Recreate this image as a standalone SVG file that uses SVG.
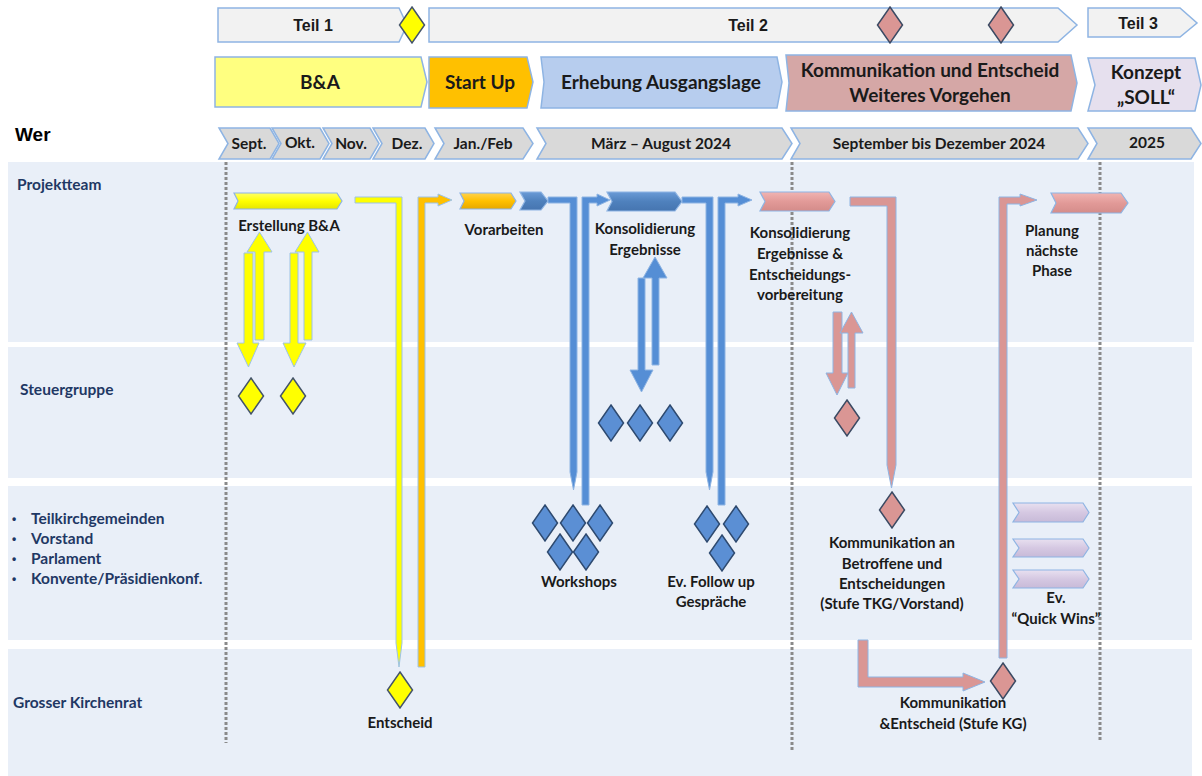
<svg xmlns="http://www.w3.org/2000/svg" width="1202" height="776" viewBox="0 0 1202 776">
<defs>
  <linearGradient id="gY" x1="0" y1="0" x2="0" y2="1"><stop offset="0" stop-color="#FFFF66"/><stop offset="0.5" stop-color="#FFFF00"/><stop offset="1" stop-color="#E6E600"/></linearGradient>
  <linearGradient id="gO" x1="0" y1="0" x2="0" y2="1"><stop offset="0" stop-color="#FFD24D"/><stop offset="0.5" stop-color="#FFC000"/><stop offset="1" stop-color="#E6A800"/></linearGradient>
  <linearGradient id="gB" x1="0" y1="0" x2="0" y2="1"><stop offset="0" stop-color="#6A9AD6"/><stop offset="0.5" stop-color="#4F81BD"/><stop offset="1" stop-color="#4675B0"/></linearGradient>
  <linearGradient id="gP" x1="0" y1="0" x2="0" y2="1"><stop offset="0" stop-color="#F0B4B2"/><stop offset="0.5" stop-color="#E29A98"/><stop offset="1" stop-color="#D48C8A"/></linearGradient>
  <linearGradient id="gL" x1="0" y1="0" x2="0" y2="1"><stop offset="0" stop-color="#E8E0F0"/><stop offset="0.5" stop-color="#D5C8E2"/><stop offset="1" stop-color="#C8BAD8"/></linearGradient>
  <path id="dia" d="M0,-18 L12.5,0 L0,18 L-12.5,0 Z"/>
</defs>
<style>
  .band{fill:#E9EFF8}
  .dot{stroke:#8A8A8A;stroke-width:3;stroke-dasharray:3 2;fill:none}
  .hdr{fill:#F2F2F2;stroke:#8EB4E3;stroke-width:1.5}
  .mon{fill:#D9D9D9;stroke:#8EB4E3;stroke-width:1.5}
  .ph{stroke:#8EB4E3;stroke-width:1.5}
  .t{font-family:Lato,"Liberation Sans",sans-serif;font-weight:700;fill:#1A1A1A;text-anchor:middle}
  .ta{font-family:"Liberation Sans",Arial,sans-serif;font-weight:700;fill:#1A1A1A;text-anchor:middle}
  .lane{font-family:Lato,"Liberation Sans",sans-serif;font-weight:700;fill:#1F3864;font-size:15.5px}
  .bul{font-family:"Liberation Sans",Arial,sans-serif;font-weight:700;fill:#1F3864;font-size:12px}
  .m{font-size:15.5px}
  .n{font-size:15px}
  .p{font-size:19px}
  .tk{stroke:#8EB4E3;stroke-width:1.2}
  .cy{fill:#FFFF00;stroke:#9DC3E6;stroke-width:1}
  .co{fill:#FFC000;stroke:#9DC3E6;stroke-width:1}
  .cb{fill:#558ED5;stroke:#8EB4E3;stroke-width:1}
  .cp{fill:#DA9694;stroke:#8EB4E3;stroke-width:1}
  .dy{fill:#FFFF00;stroke:#44546A;stroke-width:1.5}
  .db{fill:#5B8FD4;stroke:#2E4A70;stroke-width:1.5}
  .dp{fill:#DA9694;stroke:#3B4A63;stroke-width:1.5}
</style>
<rect width="1202" height="776" fill="#FFFFFF"/>

<g id="lanes">
  <rect class="band" x="8" y="162" width="1186" height="180"/>
  <rect class="band" x="8" y="347" width="1184" height="131"/>
  <rect class="band" x="8" y="486" width="1184" height="154"/>
  <rect class="band" x="8" y="649" width="1184" height="127"/>
  <line class="dot" x1="226" y1="162" x2="226" y2="743"/>
  <line class="dot" x1="792" y1="162" x2="792" y2="750"/>
  <line class="dot" x1="1100" y1="162" x2="1100" y2="741"/>
</g>

<g id="lane-labels">
  <text x="15" y="141" font-family="'Liberation Sans',Arial,sans-serif" font-weight="700" font-size="19" fill="#000">Wer</text>
  <text class="lane" x="17" y="190">Projektteam</text>
  <text class="lane" x="20" y="395">Steuergruppe</text>
  <text class="bul" x="12" y="523">•</text><text class="lane" x="31" y="524">Teilkirchgemeinden</text>
  <text class="bul" x="12" y="543">•</text><text class="lane" x="31" y="544">Vorstand</text>
  <text class="bul" x="12" y="563">•</text><text class="lane" x="31" y="564">Parlament</text>
  <text class="bul" x="12" y="583">•</text><text class="lane" x="31" y="584">Konvente/Präsidienkonf.</text>
  <text class="lane" x="13" y="708">Grosser Kirchenrat</text>
</g>

<g id="teil1">
  <path class="hdr" d="M218,8 L399,8 L407,25 L399,42 L218,42 Z"/>
  <text class="ta" x="313" y="31" font-size="16">Teil 1</text>
</g>
<g id="teil2">
  <path class="hdr" d="M429,8 L1058,8 L1077,25 L1058,42 L429,42 Z"/>
  <text class="ta" x="748" y="31" font-size="16">Teil 2</text>
</g>
<g id="teil3">
  <path class="hdr" d="M1088,8 L1180,8 L1197,23 L1180,37 L1088,37 Z"/>
  <text class="ta" x="1138" y="29" font-size="16">Teil 3</text>
</g>
<g id="ms-teil1"><use href="#dia" class="dy" transform="translate(412,25)"/></g>
<g id="ms-teil2a"><use href="#dia" class="dp" transform="translate(890,25)"/></g>
<g id="ms-teil2b"><use href="#dia" class="dp" transform="translate(1001,25)"/></g>

<g id="phase-ba">
  <path class="ph" fill="#FFFF80" d="M215,57 L421,57 L427,82 L421,107 L215,107 Z"/>
  <text class="t p" x="320" y="89">B&amp;A</text>
</g>
<g id="phase-startup">
  <path class="ph" fill="#FFC000" d="M429,57 L527,57 L533,82 L527,108 L429,108 Z"/>
  <text class="t p" x="480" y="89">Start Up</text>
</g>
<g id="phase-erhebung">
  <path class="ph" fill="#B7CDEE" d="M541,57 L777,57 L782,82 L777,108 L541,108 L544,82 Z"/>
  <text class="t p" x="661" y="89">Erhebung Ausgangslage</text>
</g>
<g id="phase-kommunikation">
  <path class="ph" fill="#D5A7A6" d="M786,55 L1071,55 L1077,83 L1071,111 L786,111 L789,83 Z"/>
  <text class="t p" x="930" y="77">Kommunikation und Entscheid</text>
  <text class="t p" x="930" y="102">Weiteres Vorgehen</text>
</g>
<g id="phase-konzept">
  <path class="ph" fill="#E6E0EE" d="M1088,58 L1195,58 L1201,85 L1195,111 L1088,111 L1095,85 Z"/>
  <text class="t p" x="1146" y="79">Konzept</text>
  <text class="t p" x="1146" y="104">„SOLL“</text>
</g>

<g id="months">
  <path class="mon" d="M219,128 L270,128 L279,143.5 L270,159 L219,159 L228,143.5 Z"/>
  <text class="t m" x="249" y="149">Sept.</text>
  <path class="mon" d="M272,128 L320,128 L329,143.5 L320,159 L272,159 L281,143.5 Z"/>
  <text class="t m" x="300" y="148">Okt.</text>
  <path class="mon" d="M323,128 L370,128 L379,143.5 L370,159 L323,159 L332,143.5 Z"/>
  <text class="t m" x="351" y="149">Nov.</text>
  <path class="mon" d="M373,128 L425,128 L434,143.5 L425,159 L373,159 L382,143.5 Z"/>
  <text class="t m" x="407" y="149">Dez.</text>
  <path class="mon" d="M435,128 L523,128 L533,143.5 L523,159 L435,159 L444,143.5 Z"/>
  <text class="t m" x="483" y="149">Jan./Feb</text>
  <path class="mon" d="M537,128 L782,128 L792,143.5 L782,159 L537,159 L546,143.5 Z"/>
  <text class="t m" x="661" y="149">März – August 2024</text>
  <path class="mon" d="M791,128 L1078,128 L1088,143.5 L1078,159 L791,159 L800,143.5 Z"/>
  <text class="t m" x="939" y="149">September bis Dezember 2024</text>
  <path class="mon" d="M1088,128 L1191,128 L1201,143.5 L1191,159 L1088,159 L1097,143.5 Z"/>
  <text class="t m" x="1147" y="148">2025</text>
</g>

<g id="task-erstellung">
  <path class="tk" fill="url(#gY)" d="M234,193 L337,193 L342,201 L337,209 L234,209 L238,201 Z"/>
  <text class="t n" x="289" y="231">Erstellung B&amp;A</text>
</g>
<g id="task-vorarbeiten">
  <path class="tk" fill="url(#gO)" d="M460,193 L511,193 L516,201 L511,209 L460,209 L464,201 Z"/>
  <path class="tk" fill="url(#gB)" d="M520,192 L541,192 L548,201 L541,210 L520,210 L525,201 Z"/>
  <text class="t n" x="504" y="235">Vorarbeiten</text>
</g>
<g id="task-konsolidierung">
  <path class="tk" fill="url(#gB)" d="M607,192 L675,192 L682,201.5 L675,211 L607,211 L612,201.5 Z"/>
  <text class="t n" x="645" y="234">Konsolidierung</text>
  <text class="t n" x="645" y="255">Ergebnisse</text>
</g>
<g id="task-entscheidungsvorbereitung">
  <path class="tk" fill="url(#gP)" d="M760,192 L829,192 L835,201.5 L829,211 L760,211 L765,201.5 Z"/>
  <text class="t n" x="800" y="238">Konsolidierung</text>
  <text class="t n" x="800" y="259">Ergebnisse &amp;</text>
  <text class="t n" x="800" y="280">Entscheidungs-</text>
  <text class="t n" x="800" y="300">vorbereitung</text>
</g>
<g id="task-planung">
  <path class="tk" fill="url(#gP)" d="M1051,193 L1121,193 L1128,203 L1121,213 L1051,213 L1056,203 Z"/>
  <text class="t n" x="1052" y="236">Planung</text>
  <text class="t n" x="1052" y="256">nächste</text>
  <text class="t n" x="1052" y="276">Phase</text>
</g>
<g id="task-quickwins">
  <path class="tk" fill="url(#gL)" d="M1013,503 L1083,503 L1089,512.5 L1083,522 L1013,522 L1019,512.5 Z"/>
  <path class="tk" fill="url(#gL)" d="M1013,539 L1083,539 L1089,548 L1083,557 L1013,557 L1019,548 Z"/>
  <path class="tk" fill="url(#gL)" d="M1013,570 L1083,570 L1089,579 L1083,588 L1013,588 L1019,579 Z"/>
  <text class="t n" x="1056" y="603">Ev.</text>
  <text class="t n" x="1056" y="624">“Quick Wins”</text>
</g>

<g id="sg-ba">
  <use href="#dia" class="dy" transform="translate(251,396)"/>
  <use href="#dia" class="dy" transform="translate(293,396)"/>
</g>
<g id="sg-erhebung">
  <use href="#dia" class="db" transform="translate(611,423)"/>
  <use href="#dia" class="db" transform="translate(640,423)"/>
  <use href="#dia" class="db" transform="translate(670,423)"/>
</g>
<g id="sg-kommunikation">
  <use href="#dia" class="dp" transform="translate(847,418)"/>
</g>
<g id="workshops">
  <use href="#dia" class="db" transform="translate(545,523)"/>
  <use href="#dia" class="db" transform="translate(573,523)"/>
  <use href="#dia" class="db" transform="translate(600,523)"/>
  <use href="#dia" class="db" transform="translate(560,552)"/>
  <use href="#dia" class="db" transform="translate(586,552)"/>
  <text class="t n" x="579" y="587">Workshops</text>
</g>
<g id="followup">
  <use href="#dia" class="db" transform="translate(707,524)"/>
  <use href="#dia" class="db" transform="translate(736,524)"/>
  <use href="#dia" class="db" transform="translate(722,553)"/>
  <text class="t n" x="711" y="587">Ev. Follow up</text>
  <text class="t n" x="711" y="607">Gespräche</text>
</g>
<g id="kommunikation-tkg">
  <use href="#dia" class="dp" transform="translate(892,510)"/>
  <text class="t n" x="892" y="548">Kommunikation an</text>
  <text class="t n" x="892" y="569">Betroffene und</text>
  <text class="t n" x="892" y="589">Entscheidungen</text>
  <text class="t n" x="892" y="609">(Stufe TKG/Vorstand)</text>
</g>
<g id="entscheid-gkr">
  <use href="#dia" class="dy" transform="translate(400,690)"/>
  <text class="t n" x="400" y="728">Entscheid</text>
</g>
<g id="kommunikation-kg">
  <use href="#dia" class="dp" transform="translate(1003,681)"/>
  <text class="t n" x="953" y="708">Kommunikation</text>
  <text class="t n" x="953" y="729">&amp;Entscheid (Stufe KG)</text>
</g>

<g id="connectors">
  <polygon class="cy" points="244,253 253,253 253,343 259,343 248.5,367 237,343 244,343"/>
  <polygon class="cy" points="255,340 255,252 247,252 259.5,232 272,252 264,252 264,340"/>
  <polygon class="cy" points="290,253 298,253 298,343 306,343 294,367 283,343 290,343"/>
  <polygon class="cy" points="304,340 304,252 295,252 307.5,232 319,252 312,252 312,340"/>
  <polygon class="cy" points="355,197 402,197 402,643 399,667 396,643 396,203 355,203"/>
  <polygon class="co" points="418,667 418,197 438,197 438,194 452,200 438,206 438,203 425,203 425,667"/>
  <polygon class="cb" points="548,197 577,197 577,472 573.5,490 570,472 570,203 548,203"/>
  <polygon class="cb" points="582,505 582,197 597,197 597,194 610,200 597,206 597,203 589,203 589,505"/>
  <polygon class="cb" points="682,197 713,197 713,472 709.5,490 706,472 706,203 682,203"/>
  <polygon class="cb" points="718,505 718,197 738,197 738,194 752,200 738,206 738,203 725,203 725,505"/>
  <polygon class="cb" points="638,278 645,278 645,370 653,370 641.5,392 630,370 638,370"/>
  <polygon class="cb" points="652,365 652,278 643,278 655,257 667,278 659,278 659,365"/>
  <polygon class="cp" points="833,312 842,312 842,373 848,373 837,395 826,373 833,373"/>
  <polygon class="cp" points="848,388 848,333 840,333 851.5,312 863,333 855,333 855,388"/>
  <polygon class="cp" points="850,197 896,197 896,465 891.5,488 887,465 887,206 850,206"/>
  <polygon class="cp" points="858,640 868,640 868,677 963,677 963,673 985,682 963,691 963,687 858,687"/>
  <polygon class="cp" points="999,658 999,197 1020,197 1020,194 1037,200 1020,206 1020,204 1007,204 1007,658"/>
</g>
</svg>
